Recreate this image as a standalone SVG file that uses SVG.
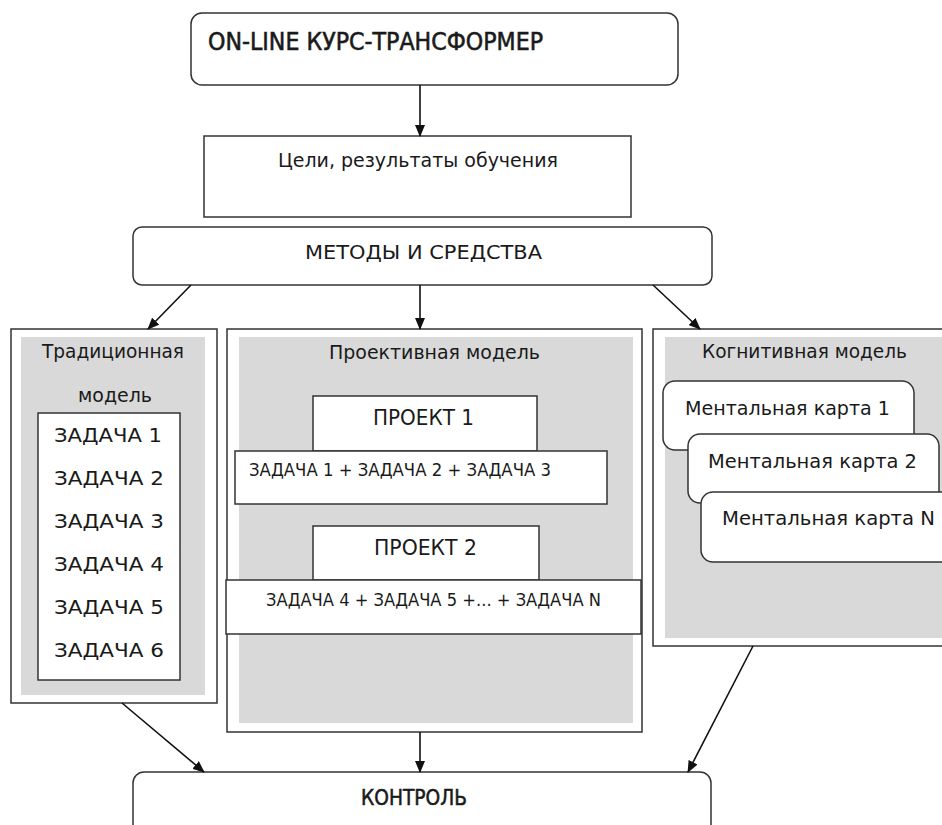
<svg xmlns="http://www.w3.org/2000/svg" width="942" height="825" viewBox="0 0 942 825">
<defs>
<marker id="ah" markerWidth="12" markerHeight="10" refX="11" refY="5" orient="auto" markerUnits="userSpaceOnUse">
<path d="M0,0 L12,5 L0,10 Z" fill="#111"/>
</marker>
</defs>
<style>
text{font-family:"DejaVu Sans","Liberation Sans",sans-serif;fill:#1a1a1a;}
.box{fill:#fff;stroke:#333;stroke-width:1.5;}
.gray{fill:#d9d9d9;stroke:none;}
.con{stroke:#111;stroke-width:1.6;fill:none;marker-end:url(#ah);}
.t20{font-size:20px;}
.t19{font-size:19px;}
.t17{font-size:17px;}
.med{stroke:#1a1a1a;stroke-width:0.6;}
</style>
<rect width="942" height="825" fill="#fff"/>

<g id="top">
<rect class="box" x="191" y="13" width="487" height="72" rx="11"/>
<text class="med" x="208" y="50" font-size="24" textLength="335" lengthAdjust="spacingAndGlyphs">ON-LINE КУРС-ТРАНСФОРМЕР</text>
</g>

<g id="goals">
<rect class="box" x="204" y="136" width="427" height="81"/>
<text class="t20" x="278" y="167" textLength="280" lengthAdjust="spacingAndGlyphs">Цели, результаты обучения</text>
</g>

<g id="methods">
<rect class="box" x="133" y="227" width="579" height="58" rx="9"/>
<text class="t20" x="305" y="259" textLength="237" lengthAdjust="spacingAndGlyphs">МЕТОДЫ И СРЕДСТВА</text>
</g>

<g id="traditional">
<rect class="box" x="11" y="329" width="206" height="374"/>
<rect class="gray" x="21" y="337" width="184" height="358"/>
<text class="t19" x="42" y="358" textLength="142" lengthAdjust="spacingAndGlyphs">Традиционная</text>
<text class="t19" x="78" y="402" textLength="74" lengthAdjust="spacingAndGlyphs">модель</text>
<rect class="box" x="38" y="413" width="142" height="267"/>
<text class="t20" x="54" y="442" textLength="108" lengthAdjust="spacingAndGlyphs">ЗАДАЧА 1</text>
<text class="t20" x="54" y="485" textLength="110" lengthAdjust="spacingAndGlyphs">ЗАДАЧА 2</text>
<text class="t20" x="54" y="528" textLength="110" lengthAdjust="spacingAndGlyphs">ЗАДАЧА 3</text>
<text class="t20" x="54" y="571" textLength="110" lengthAdjust="spacingAndGlyphs">ЗАДАЧА 4</text>
<text class="t20" x="54" y="614" textLength="110" lengthAdjust="spacingAndGlyphs">ЗАДАЧА 5</text>
<text class="t20" x="54" y="657" textLength="110" lengthAdjust="spacingAndGlyphs">ЗАДАЧА 6</text>
</g>

<g id="projective">
<rect class="box" x="227" y="329" width="415" height="403"/>
<rect class="gray" x="239" y="337" width="394" height="386"/>
<text class="t19" x="329" y="359" textLength="211" lengthAdjust="spacingAndGlyphs">Проективная модель</text>
<rect class="box" x="313" y="396" width="224" height="55"/>
<text x="373" y="425" font-size="21" textLength="101" lengthAdjust="spacingAndGlyphs">ПРОЕКТ 1</text>
<rect class="box" x="235" y="451" width="372" height="53"/>
<text class="t17" x="249" y="476" textLength="302" lengthAdjust="spacingAndGlyphs">ЗАДАЧА 1 + ЗАДАЧА 2 + ЗАДАЧА 3</text>
<rect class="box" x="313" y="526" width="226" height="54"/>
<text x="374" y="555" font-size="21" textLength="103" lengthAdjust="spacingAndGlyphs">ПРОЕКТ 2</text>
<rect class="box" x="226" y="580" width="415" height="54"/>
<text class="t17" x="266" y="606" textLength="335" lengthAdjust="spacingAndGlyphs">ЗАДАЧА 4 + ЗАДАЧА 5 +... + ЗАДАЧА N</text>
</g>

<g id="cognitive">
<rect class="box" x="653" y="329" width="300" height="317"/>
<rect class="gray" x="665" y="337" width="290" height="301"/>
<text class="t19" x="702" y="358" textLength="205" lengthAdjust="spacingAndGlyphs">Когнитивная модель</text>
<rect class="box" x="663" y="381" width="251" height="69" rx="12"/>
<text class="t19" x="685" y="415" textLength="205" lengthAdjust="spacingAndGlyphs">Ментальная карта 1</text>
<rect class="box" x="688" y="434" width="251" height="69" rx="12"/>
<text class="t19" x="708" y="468" textLength="209" lengthAdjust="spacingAndGlyphs">Ментальная карта 2</text>
<rect class="box" x="701" y="492" width="260" height="70" rx="12"/>
<text class="t19" x="722" y="525" textLength="213" lengthAdjust="spacingAndGlyphs">Ментальная карта N</text>
</g>

<g id="control">
<rect class="box" x="133" y="772" width="578" height="80" rx="11"/>
<text class="med" x="361" y="805" font-size="22" textLength="106" lengthAdjust="spacingAndGlyphs">КОНТРОЛЬ</text>
</g>

<g id="connectors">
<line class="con" x1="420" y1="85" x2="420" y2="136"/>
<line class="con" x1="191" y1="285" x2="148" y2="329"/>
<line class="con" x1="420" y1="285" x2="420" y2="329"/>
<line class="con" x1="653" y1="285" x2="700" y2="329"/>
<line class="con" x1="122" y1="703" x2="204" y2="772"/>
<line class="con" x1="420" y1="732" x2="420" y2="772"/>
<line class="con" x1="753" y1="646" x2="688" y2="772"/>
</g>
</svg>
